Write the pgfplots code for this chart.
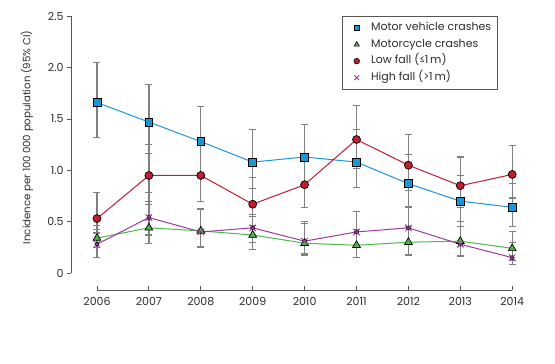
\documentclass[border=0pt]{standalone}
\usepackage{pgfplots}
\pgfplotsset{compat=1.18}
\usepackage{pgfplotstable}
\usepackage{fontspec}
\setmainfont{Poppins}

\definecolor{mvcblue}{RGB}{27,150,214}
\definecolor{motogreen}{RGB}{77,184,72}
\definecolor{lowred}{RGB}{190,30,45}
\definecolor{highpurple}{RGB}{155,60,155}
\definecolor{errgray}{RGB}{128,128,128}
\definecolor{axisgray}{RGB}{85,85,85}
\definecolor{textgray}{RGB}{45,45,45}

\pgfplotstableread{
year mvc  mvclo mvchi moto motolo motohi low  lowlo lowhi high highlo highhi
2006 1.66 1.32  2.05  0.34 0.25   0.46   0.53 0.39  0.78  0.28 0.15   0.42
2007 1.47 1.16  1.84  0.44 0.29   0.67   0.95 0.70  1.25  0.54 0.37   0.78
2008 1.28 0.97  1.62  0.41 0.26   0.62   0.95 0.70  1.26  0.40 0.25   0.63
2009 1.08 0.82  1.40  0.37 0.23   0.55   0.67 0.46  0.93  0.44 0.30   0.57
2010 1.13 0.87  1.45  0.29 0.175  0.48   0.86 0.64  1.12  0.31 0.19   0.50
2011 1.08 0.83  1.40  0.27 0.15   0.42   1.30 1.02  1.63  0.40 0.25   0.60
2012 0.87 0.65  1.15  0.30 0.175  0.45   1.05 0.80  1.35  0.44 0.30   0.64
2013 0.70 0.50  0.95  0.31 0.17   0.45   0.85 0.64  1.13  0.28 0.16   0.50
2014 0.64 0.45  0.87  0.24 0.12   0.40   0.96 0.73  1.24  0.15 0.08   0.30
}\data

\begin{document}
\begin{tikzpicture}
\begin{axis}[
  x=51.9pt, y=102.67pt,
  xmin=2005.5, xmax=2014.6, ymin=-0.1656, ymax=2.5,
  axis lines*=left,
  axis line style={draw=none},
  clip=false,
  xtick={2006,2007,2008,2009,2010,2011,2012,2013,2014},
  xticklabels={2006,2007,2008,2009,2010,2011,2012,2013,2014},
  ytick={0,0.5,1,1.5,2,2.5},
  yticklabels={0,0.5,1.0,1.5,2.0,2.5},
  xtick align=inside, ytick align=outside,
  major tick length=4pt,
  tick style={axisgray, line width=0.8pt},
  tick label style={text=textgray, font=\fontsize{11}{13}\selectfont},
  x tick label style={yshift=-4pt},
  legend style={at={(axis cs:2010.72,2.503)}, anchor=north west,
    draw=axisgray, line width=0.8pt, fill=white, text=textgray,
    font=\fontsize{11}{13}\selectfont, inner xsep=3pt, inner ysep=3.5pt,
    nodes={text height=8.5pt, text depth=3pt, inner ysep=2.5pt, inner xsep=3pt}},
  legend cell align=left,
  legend image code/.code={\draw[#1] plot coordinates {(0.4cm,0cm)};\path[draw=none,fill=none] (0cm,0cm) -- (0.8cm,0cm);},
]
% error bars
\pgfplotsforeachungrouped \s in {mvc,moto,low,high}{
  \addplot[only marks, mark=none, forget plot,
    error bars/.cd, y dir=both, y explicit,
    error bar style={errgray, line width=1.3pt},
    error mark options={rotate=90, errgray, mark size=3.5pt, line width=1.1pt}]
    table[x=year, y=\s, y error plus expr=\thisrow{\s hi}-\thisrow{\s},
          y error minus expr=\thisrow{\s}-\thisrow{\s lo}] {\data};
}
% lines
\addplot[mvcblue, line width=1pt, forget plot, mark=square*, mark size=3.9pt,
  mark options={fill=mvcblue, draw=black, line width=0.7pt}]
  table[x=year, y=mvc] {\data};
\addplot[motogreen, line width=1pt, forget plot, mark=triangle*, mark size=4.5pt,
  mark options={fill=motogreen, draw=black, line width=0.7pt}]
  table[x=year, y=moto] {\data};
\addplot[lowred, line width=1pt, forget plot, mark=*, mark size=4pt,
  mark options={fill=lowred, draw=black, line width=0.7pt}]
  table[x=year, y=low] {\data};
\addplot[highpurple, line width=1pt, forget plot, mark=x, mark size=4.5pt,
  mark options={draw=highpurple, line width=1pt}]
  table[x=year, y=high] {\data};
% legend
\addlegendimage{draw=none, mark=square*, mark size=2.6pt, mark options={fill=mvcblue, draw=black, line width=0.6pt}}
\addlegendentry{Motor vehicle crashes}
\addlegendimage{draw=none, mark=triangle*, mark size=3pt, mark options={fill=motogreen, draw=black, line width=0.6pt}}
\addlegendentry{Motorcycle crashes}
\addlegendimage{draw=none, mark=*, mark size=2.8pt, mark options={fill=lowred, draw=black, line width=0.6pt}}
\addlegendentry{Low fall (≤1\,m)}
\addlegendimage{draw=none, mark=x, mark size=3.4pt, mark options={draw=highpurple, line width=0.9pt}}
\addlegendentry{High fall (>1\,m)}
% axis lines
\draw[axisgray, line width=0.9pt] (axis cs:2005.5,0) -- (axis cs:2005.5,2.5);
\draw[axisgray, line width=0.9pt] (axis cs:2006,-0.1656) -- (axis cs:2014,-0.1656);
\node[rotate=90, text=textgray, font=\fontsize{10.2}{12}\selectfont] at (axis cs:2004.651,1.32) {Incidence per 100\,000 population (95\% CI)};
\coordinate (bbl) at (axis cs:2004.131,-0.8863);
\coordinate (btr) at (axis cs:2014.825,2.659);
\end{axis}
\pgfresetboundingbox
\useasboundingbox (bbl) rectangle (btr);
\end{tikzpicture}
\end{document}
